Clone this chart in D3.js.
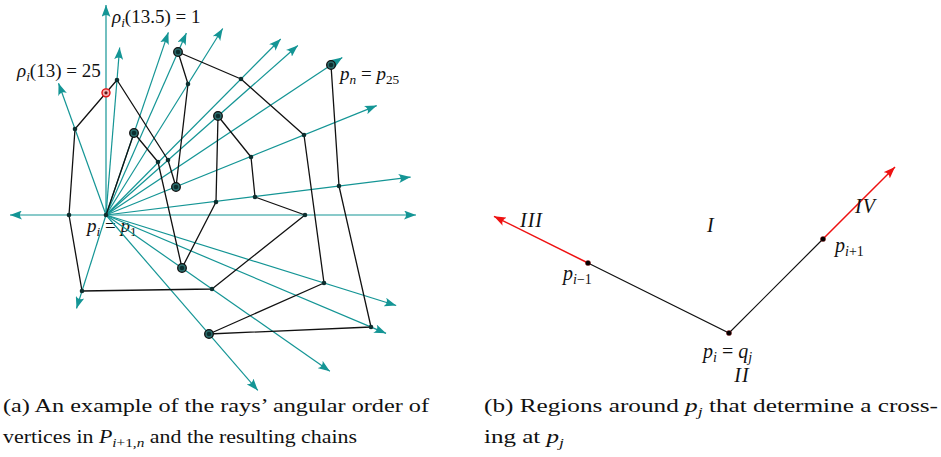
<!DOCTYPE html>
<html><head><meta charset="utf-8">
<script src="https://cdn.jsdelivr.net/npm/d3@7"></script>
<style>
  body { margin: 0; background: #fff; }
  text { font-family: "Liberation Serif", "Times New Roman", Times, serif; white-space: pre; fill: #111; }
</style>
</head><body>
<svg id="fig" width="941" height="457"></svg>
<script>
// ---- (a) polygon P = p1..p25, coordinates relative to p1 (y up) ----
const vertexIds = d3.range(1, 26);
const vertexX = [0, 28, 52, 76, 110, 112, 145, 149, 199, 106, -24, -37, -31, 11, 62, 70, 82, 72, 135, 198, 218, 103, 265, 233, 225];
const vertexY = [0, 82, 53, -53, 13, 99, 58, 18, 0, -74, -76, 0, 86, 135, 55, 28, 131, 163, 136, 80, -68, -119, -112, 29, 150];
// local extremes of the chain, drawn with a ring
const ringedIds = [2, 4, 6, 16, 18, 22, 25];
// rays from p1: the vertex each ray passes through (13.5 = point on edge p13p14) and its reach
const rayThrough = [13.5, 13, 14, 2, 18, 17, 19, 6, 25, 20, 24, 9, 21, 23, 10, 22, 11, 12];
const rayReach = [210, 140, 168, 193, 199, 220, 248, 256, 284, 292, 307, 310, 304, 304, 273, 232, 98, 96];

// ---- (b) the chain p_{i-1}, p_i, p_{i+1}, coordinates relative to p_i (y up) ----
const chainX = [-141, 0, 94];
const chainY = [70, 0, 94];
// how far the two red rays continue past p_{i-1} and p_{i+1}
const rayExtend = [1.667, 1.766];

const teal = "#149595";
const svg = d3.select("#fig");

const defs = svg.append("defs");
function arrowMarker(id, color, len, wid) {
  defs.append("marker").attr("id", id)
    .attr("markerUnits", "userSpaceOnUse")
    .attr("markerWidth", len).attr("markerHeight", wid)
    .attr("refX", len).attr("refY", wid / 2).attr("orient", "auto")
    .append("path")
    .attr("d", `M0,0 Q${len * 0.35},${wid / 2} 0,${wid} L${len},${wid / 2} Z`)
    .attr("fill", color);
}
arrowMarker("tealArrow", teal, 12, 9);
arrowMarker("redArrow", "#ee1111", 12, 9);

// math label helper: parts = [text, italic, subscript]
function mathText(sel, parts, size) {
  let down = false;
  parts.forEach(([t, it, sub]) => {
    const ts = sel.append("tspan").text(t)
      .attr("font-style", it ? "italic" : "normal")
      .attr("font-size", sub ? size * 0.7 : size);
    if (sub && !down) { ts.attr("dy", size * 0.22); down = true; }
    else if (!sub && down) { ts.attr("dy", -size * 0.22); down = false; }
  });
  return sel;
}

// ================= panel (a) =================
const xA = d3.scaleLinear().domain([-100, 300]).range([6, 406]);
const yA = d3.scaleLinear().domain([-100, 200]).range([315, 15]);
const verts = vertexIds.map((id, k) => ({ id, x: vertexX[k], y: vertexY[k] }));
const vById = id => verts[id - 1];

// point on edge p13p14 met by the vertical ray through p1
function edgePoint(f) {
  const a = vById(Math.floor(f)), b = vById(Math.floor(f) + 1);
  const t = (vById(1).x - a.x) / (b.x - a.x);
  return { x: a.x + t * (b.x - a.x), y: a.y + t * (b.y - a.y) };
}
const halfPt = edgePoint(13.5);
const origin = vById(1);

const gA = svg.append("g");
const fa = 19;

// label under the rays
const lblP1 = gA.append("text").attr("x", xA(-19)).attr("y", yA(-17)).attr("fill", "#444");
mathText(lblP1, [["p", true], ["i", true, true], [" = ", false], ["p", true], ["1", false, true]], fa);

// rays
const rays = rayThrough.map((f, k) => {
  const p = Number.isInteger(f) ? vById(f) : halfPt;
  const dx = p.x - origin.x, dy = p.y - origin.y, d = Math.hypot(dx, dy);
  return { x2: origin.x + dx / d * rayReach[k], y2: origin.y + dy / d * rayReach[k] };
});
gA.selectAll("line.ray").data(rays).join("line").attr("class", "ray")
  .attr("x1", xA(origin.x)).attr("y1", yA(origin.y))
  .attr("x2", d => xA(d.x2)).attr("y2", d => yA(d.y2))
  .attr("stroke", teal).attr("stroke-width", 1.2)
  .attr("marker-end", "url(#tealArrow)");

// polygonal chain
const chainLine = d3.line().x(d => xA(d.x)).y(d => yA(d.y));
gA.append("path").datum(verts).attr("d", chainLine)
  .attr("fill", "none").attr("stroke", "#111").attr("stroke-width", 1.3)
  .attr("stroke-linejoin", "round");

// vertices
gA.selectAll("circle.ring").data(verts.filter(v => ringedIds.includes(v.id))).join("circle")
  .attr("class", "ring").attr("cx", d => xA(d.x)).attr("cy", d => yA(d.y)).attr("r", 4.3)
  .attr("fill", "#2b6d6d").attr("stroke", "#111").attr("stroke-width", 1.3);
gA.selectAll("circle.vtx").data(verts).join("circle")
  .attr("class", "vtx").attr("cx", d => xA(d.x)).attr("cy", d => yA(d.y)).attr("r", 2.3)
  .attr("fill", "#0d2f2f");

// crossing point rho_i(13.5)
gA.append("circle").attr("cx", xA(halfPt.x)).attr("cy", yA(halfPt.y)).attr("r", 4)
  .attr("fill", "#f3b0b0").attr("stroke", "#e01010").attr("stroke-width", 1.4);
gA.append("circle").attr("cx", xA(halfPt.x)).attr("cy", yA(halfPt.y)).attr("r", 1.6)
  .attr("fill", "#5a1a1a");

const l1 = gA.append("text").attr("x", xA(6)).attr("y", yA(192));
mathText(l1, [["ρ", true], ["i", true, true], ["(13.5) = 1", false]], fa);
const l2 = gA.append("text").attr("x", xA(-89)).attr("y", yA(138));
mathText(l2, [["ρ", true], ["i", true, true], ["(13) = 25", false]], fa);
const l3 = gA.append("text").attr("x", xA(234)).attr("y", yA(135));
mathText(l3, [["p", true], ["n", true, true], [" = ", false], ["p", true], ["25", false, true]], fa);

// ================= panel (b) =================
const xB = d3.scaleLinear().domain([-100, 100]).range([629, 829]);
const yB = d3.scaleLinear().domain([0, 100]).range([333, 233]);
const chain = chainX.map((x, k) => ({ x, y: chainY[k] }));
const gB = svg.append("g");

const ends = [chain[0], chain[2]];
ends.forEach((p, k) => {
  gB.append("line")
    .attr("x1", xB(p.x)).attr("y1", yB(p.y))
    .attr("x2", xB(p.x * rayExtend[k])).attr("y2", yB(p.y * rayExtend[k]))
    .attr("stroke", "#ee1111").attr("stroke-width", 1.5)
    .attr("marker-end", "url(#redArrow)");
});
gB.append("path").datum(chain).attr("d", d3.line().x(d => xB(d.x)).y(d => yB(d.y)))
  .attr("fill", "none").attr("stroke", "#111").attr("stroke-width", 1.2);
gB.selectAll("circle").data(chain).join("circle")
  .attr("cx", d => xB(d.x)).attr("cy", d => yB(d.y)).attr("r", 2.6)
  .attr("fill", "#000").attr("stroke", "#a01010").attr("stroke-width", 0.4);

const fb = 20;
mathText(gB.append("text").attr("x", xB(-166)).attr("y", yB(53)),
  [["p", true], ["i", true, true], ["−1", false, true]], fb);
mathText(gB.append("text").attr("x", xB(106)).attr("y", yB(81)),
  [["p", true], ["i", true, true], ["+1", false, true]], fb);
mathText(gB.append("text").attr("x", xB(-26)).attr("y", yB(-25)),
  [["p", true], ["i", true, true], [" = ", false], ["q", true], ["j", true, true]], fb);
gB.append("text").attr("x", xB(-22)).attr("y", yB(101)).attr("font-size", fb).attr("font-style", "italic").text("I");
gB.append("text").attr("x", xB(13)).attr("y", yB(-49)).attr("font-size", fb).attr("font-style", "italic")
  .attr("text-anchor", "middle").attr("letter-spacing", 1).text("II");
gB.append("text").attr("x", xB(-209)).attr("y", yB(106)).attr("font-size", fb).attr("font-style", "italic")
  .attr("letter-spacing", 1).text("III");
gB.append("text").attr("x", xB(126)).attr("y", yB(120)).attr("font-size", fb).attr("font-style", "italic")
  .attr("letter-spacing", 1).text("IV");

// ================= captions =================
const fc = 19;
function caption(x, y, width, parts) {
  const t = svg.append("text").attr("x", x).attr("y", y).attr("font-size", fc);
  mathText(t, parts, fc);
  if (width) t.attr("textLength", width).attr("lengthAdjust", "spacingAndGlyphs");
}
caption(3, 412, 426, [["(a) An example of the rays’ angular order of", false]]);
caption(3, 443, 354, [["vertices in ", false], ["P", true], ["i", true, true], ["+1,", false, true], ["n", true, true], [" and the resulting chains", false]]);
caption(484, 412, 454, [["(b) Regions around ", false], ["p", true], ["j", true, true], [" that determine a cross-", false]]);
caption(484, 443, 80, [["ing at ", false], ["p", true], ["j", true, true]]);
</script>
</body></html>
